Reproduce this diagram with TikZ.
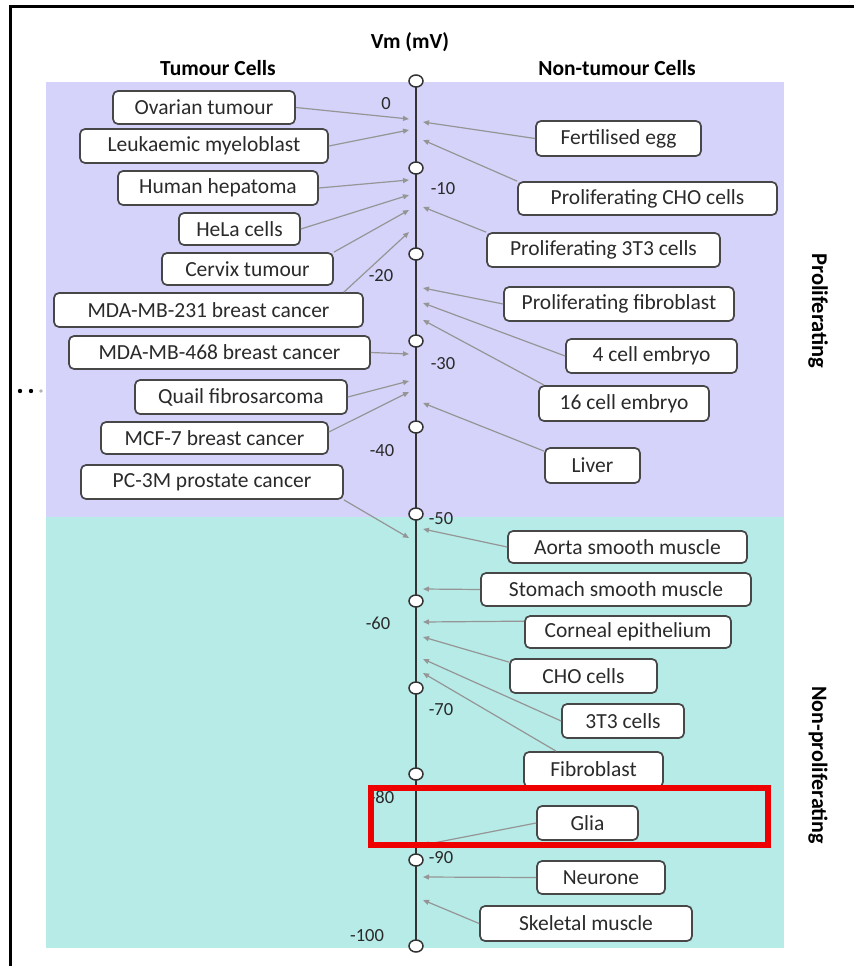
\documentclass[tikz,border=0pt]{standalone}
\usepackage{fontspec}
\setmainfont{Carlito}
\usetikzlibrary{arrows.meta,calc,shapes.geometric}
\definecolor{lav}{HTML}{D5D3FA}
\definecolor{teal}{HTML}{B6EBE8}
\definecolor{boxgray}{HTML}{474747}
\definecolor{txt}{HTML}{2A2A2A}
\definecolor{linkgray}{HTML}{959595}
\definecolor{axisgray}{HTML}{333333}
\definecolor{redbox}{HTML}{EE0000}
\tikzset{
  cellbox/.style={draw=boxgray, line width=1.7pt, rounded corners=5pt, fill=white,
    inner sep=0pt, text=txt, font=\fontsize{21.5}{24}\selectfont},
  link/.style={draw=linkgray, line width=1.2pt, -{Triangle[length=6pt,width=5pt]}},
  tickmark/.style={ellipse, draw=axisgray, fill=white, line width=1.5pt,
    minimum width=14pt, minimum height=12pt, inner sep=0pt},
  vlabel/.style={text=txt, font=\fontsize{18.5}{20}\selectfont, inner sep=0pt},
  header/.style={text=black, font=\bfseries\fontsize{21.5}{24}\selectfont, inner sep=0pt}
}
\begin{document}
\begin{tikzpicture}[x=1pt,y=-1pt]
\useasboundingbox (0,0) rectangle (854,966);
\fill[white] (0,0) rectangle (854,966);
% backgrounds
\fill[lav] (46,82) rectangle (784,517);
\fill[teal] (46,517) rectangle (784,948);
% frame
\draw[line width=3pt] (10,966) -- (10,7) -- (854,7);
% dots
\fill[black] (20,391) circle (2.2pt);
\fill[black] (31,391) circle (2.2pt);
\fill[gray!60] (41,391) circle (1.8pt);
% headers
\node[header] (vm) at (410,42) {Vm (mV)};
\node[header] (tum) at (218,68) {Tumour Cells};
\node[header] (ntum) at (617,68) {Non-tumour Cells};
\node[header, rotate=-90, font=\bfseries\fontsize{22.5}{24}\selectfont] (prol) at (818,311) {Proliferating};
\node[header, rotate=-90, font=\bfseries\fontsize{22}{24}\selectfont] (nprol) at (818,765) {Non-proliferating};
% axis
\draw[axisgray, line width=2.6pt] (416,81) -- (416,945);
\foreach \i/\y in {0/81,1/168,2/254,3/341,4/427,5/514,6/601,7/688,8/774,9/860,10/946}{
  \node[tickmark] (t\i) at (416,\y) {};
}
% value labels
\node[vlabel] (l0) at (386,104) {0};
\node[vlabel] (l10) at (443,189) {-10};
\node[vlabel] (l20) at (381,276) {-20};
\node[vlabel] (l30) at (443,364) {-30};
\node[vlabel] (l40) at (382,451) {-40};
\node[vlabel] (l50) at (441,519) {-50};
\node[vlabel] (l60) at (378,623) {-60};
\node[vlabel] (l70) at (441,710) {-70};
\node[vlabel] (l80) at (382,797) {-80};
\node[vlabel] (l90) at (441,858) {-90};
\node[vlabel] (l100) at (367,936) {-100};
% arrow end coordinates on axis
\foreach \n/\y in {aOv/119,aLe/130,aHu/180,aHe/195,aCe/210,aM2/232,aM4/354,aQu/381,aMC/392,aPC/538}{
  \coordinate (\n) at (409,\y);
}
\foreach \n/\y in {bFe/122,bPC/140,bP3/207,bPF/288,bE4/303,bE16/320,bLi/403,bAo/529,bSt/589,bCo/622,bCH/637,bT3/659,bFi/673,bGl/845,bNe/877,bSk/900}{
  \coordinate (\n) at (423,\y);
}
% left boxes
\node[cellbox, minimum width=182pt, minimum height=33pt] (ov) at (204,107.5) {Ovarian tumour};
\node[cellbox, minimum width=248pt, minimum height=34pt] (le) at (204,146) {Leukaemic myeloblast};
\node[cellbox, minimum width=200pt, minimum height=34pt] (hu) at (218,188) {Human hepatoma};
\node[cellbox, minimum width=121pt, minimum height=32pt] (he) at (239.5,229) {HeLa cells};
\node[cellbox, minimum width=171pt, minimum height=32pt] (ce) at (247.5,269) {Cervix tumour};
\node[cellbox, minimum width=309pt, minimum height=34pt] (m231) at (208.5,310) {MDA-MB-231 breast cancer};
\node[cellbox, minimum width=301pt, minimum height=33pt] (m468) at (219.5,352.5) {MDA-MB-468 breast cancer};
\node[cellbox, minimum width=212pt, minimum height=34pt] (qu) at (241,397) {Quail fibrosarcoma};
\node[cellbox, minimum width=227pt, minimum height=32pt] (mcf) at (214.5,438) {MCF-7 breast cancer};
\node[cellbox, minimum width=262pt, minimum height=34pt] (pc) at (212,482) {PC-3M prostate cancer};
% right boxes
\node[cellbox, minimum width=165pt, minimum height=35pt] (fe) at (618.5,138.5) {Fertilised egg};
\node[cellbox, minimum width=259pt, minimum height=33pt] (pcho) at (647.5,198.5) {Proliferating CHO cells};
\node[cellbox, minimum width=233pt, minimum height=34pt] (p3) at (603.5,250) {Proliferating 3T3 cells};
\node[cellbox, minimum width=230pt, minimum height=34pt] (pf) at (619,304) {Proliferating fibroblast};
\node[cellbox, minimum width=171pt, minimum height=34pt] (e4) at (651.5,356) {4 cell embryo};
\node[cellbox, minimum width=170pt, minimum height=35pt] (e16) at (624,403.5) {16 cell embryo};
\node[cellbox, minimum width=95pt, minimum height=35pt] (li) at (592.5,465.5) {Liver};
\node[cellbox, minimum width=239pt, minimum height=32pt] (ao) at (627.5,547) {Aorta smooth muscle};
\node[cellbox, minimum width=270pt, minimum height=33pt] (st) at (616,589.5) {Stomach smooth muscle};
\node[cellbox, minimum width=206pt, minimum height=32pt] (co) at (628,632) {Corneal epithelium};
\node[cellbox, minimum width=147pt, minimum height=34pt] (cho) at (583.5,676) {CHO cells};
\node[cellbox, minimum width=122pt, minimum height=34pt] (t3) at (623,721) {3T3 cells};
\node[cellbox, minimum width=139pt, minimum height=35pt] (fi) at (593.5,769.5) {Fibroblast};
\node[cellbox, minimum width=101pt, minimum height=34pt] (gl) at (587.5,823) {Glia};
\node[cellbox, minimum width=128pt, minimum height=33pt] (ne) at (601,877.5) {Neurone};
\node[cellbox, minimum width=212pt, minimum height=35pt] (sk) at (586,923.5) {Skeletal muscle};
% links left
\draw[link] (ov.east) -- (aOv);
\draw[link] (le.east) -- (aLe);
\draw[link] (hu.east) -- (aHu);
\draw[link] (he.east) -- (aHe);
\draw[link] (ce.north east) -- (aCe);
\draw[link] ([xshift=-20pt]m231.north east) -- (aM2);
\draw[link] (m468.east) -- (aM4);
\draw[link] (qu.east) -- (aQu);
\draw[link] ([yshift=6pt]mcf.east) -- (aMC);
\draw[link] (pc.south east) -- (aPC);
% links right
\draw[link] (fe.west) -- (bFe);
\draw[link] (pcho.north west) -- (bPC);
\draw[link] (p3.north west) -- (bP3);
\draw[link] (pf.west) -- (bPF);
\draw[link] (e4.west) -- (bE4);
\draw[link] ([xshift=6pt]e16.north west) -- (bE16);
\draw[link] ([yshift=-4pt]li.north west) -- (bLi);
\draw[link] (ao.west) -- (bAo);
\draw[link] (st.west) -- (bSt);
\draw[link] ([yshift=-6pt]co.north west) -- (bCo);
\draw[link] ([yshift=-4pt]cho.north west) -- (bCH);
\draw[link] (t3.west) -- (bT3);
\draw[link] ([xshift=33pt]fi.north west) -- (bFi);
\draw[link] (gl.west) -- (bGl);
\draw[link] (ne.west) -- (bNe);
\draw[link] (sk.west) -- (bSk);
% red highlight
\draw[redbox, line width=6pt] (371,788) rectangle (768,845);
\end{tikzpicture}
\end{document}
